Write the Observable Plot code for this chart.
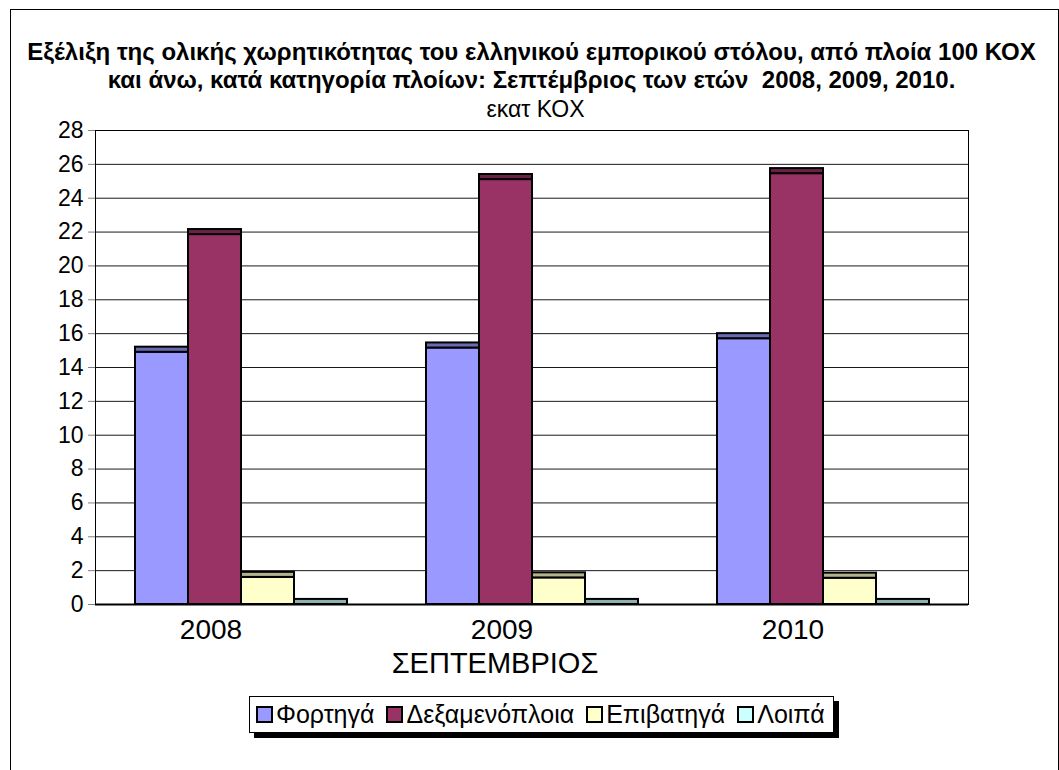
<!DOCTYPE html>
<html>
<head>
<meta charset="utf-8">
<script src="https://cdn.jsdelivr.net/npm/d3@7"></script>
<script src="https://cdn.jsdelivr.net/npm/@observablehq/plot@0.6"></script>
<style>
  html, body { margin: 0; background: #fff; min-height: 770px; }
  body { font-family: "Liberation Sans", Arial, sans-serif; color: #000; }
  #wrap { position: relative; width: 1059px; height: 770px; overflow: hidden; }
  #frame { position: absolute; left: 10px; top: 9px; width: 1047px; height: 800px; border: 1px solid #000; border-bottom: none; pointer-events: none; }
  #title { padding-top: 38px; text-align: center; font-weight: bold; font-size: 24px; line-height: 28px; white-space: nowrap; margin-left: 4px; }
  #sub { text-align: center; font-size: 23px; line-height: 22px; margin-top: 4px; margin-left: 12px; }
  #chart { margin-top: -6px; }
  #chart svg { display: block; }
  #xlabel { width: 990px; text-align: center; font-size: 29px; line-height: 30px; margin-top: -6px; }
  #legend { margin-left: 249px; margin-top: 18px; display: inline-flex; align-items: center; border: 1px solid #000; box-shadow: 5px 5px 0 #000; padding: 3px 8px 3px 6px; font-size: 25px; line-height: 29px; background: #fff; }
  #legend .item { display: inline-flex; align-items: center; margin-right: 12px; }
  #legend .item:last-child { margin-right: 0; }
  #legend .sw { width: 13px; height: 13px; border: 2px solid #000; margin-right: 3px; display: inline-block; }
</style>
</head>
<body>
<div id="wrap">
  <div id="frame"></div>
  <div id="title"></div>
  <div id="sub"></div>
  <div id="chart"></div>
  <div id="xlabel"></div>
  <div id="legend"></div>
</div>
<script>
const titleLines = [
  "Εξέλιξη της ολικής χωρητικότητας του ελληνικού εμπορικού στόλου, από πλοία 100 ΚΟΧ",
  "και άνω, κατά κατηγορία πλοίων: Σεπτέμβριος των ετών \u00a02008, 2009, 2010."
];
const subtitle = "εκατ ΚΟΧ";
const xTitle = "ΣΕΠΤΕΜΒΡΙΟΣ";

const years = ["2008", "2009", "2010"];
const cats = ["Φορτηγά", "Δεξαμενόπλοια", "Επιβατηγά", "Λοιπά"];
const fortiga = [15.2, 15.45, 16.0];
const dexamenoploia = [22.15, 25.4, 25.75];
const epivatiga = [1.9, 1.87, 1.85];
const loipa = [0.3, 0.3, 0.3];
const yTicks = [0, 2, 4, 6, 8, 10, 12, 14, 16, 18, 20, 22, 24, 26, 28];
const colors = ["#9999FF", "#993366", "#FFFFCC", "#CCFFFF"];

const series = [fortiga, dexamenoploia, epivatiga, loipa];
const rows = years.flatMap((y, i) => cats.map((c, j) => ({year: y, cat: c, value: series[j][i]})));
const depth = 0.3; // apparent 3D top face

document.getElementById("title").innerHTML = titleLines.join("<br>");
document.getElementById("sub").textContent = subtitle;
document.getElementById("xlabel").textContent = xTitle;

const faceTop = d => Math.max(0, d.value - depth);

const plot = Plot.plot({
  width: 1059,
  height: 540,
  marginTop: 16,
  marginBottom: 50,
  marginLeft: 95,
  marginRight: 91,
  style: {fontFamily: "'Liberation Sans', Arial, sans-serif", color: "#000", background: "transparent"},
  fx: {domain: years, padding: 0},
  x: {domain: cats, paddingInner: 0, paddingOuter: 0.73, axis: null},
  y: {domain: [0, 28]},
  color: {domain: cats, range: colors},
  marks: [
    Plot.gridY(yTicks.filter(t => t > 0 && t < 28), {stroke: "#000", strokeOpacity: 0.9}),
    Plot.axisY(yTicks, {tickSize: 7, tickPadding: 5, fontSize: 23, label: null, stroke: "#808080"}),
    Plot.barY(rows, {fx: "year", x: "cat", y1: 0, y2: faceTop, fill: "cat", stroke: "#000", strokeWidth: 2}),
    Plot.barY(rows, {fx: "year", x: "cat", y1: faceTop, y2: "value", fill: "cat"}),
    Plot.barY(rows, {fx: "year", x: "cat", y1: faceTop, y2: "value", fill: "#000", fillOpacity: 0.3, stroke: "#000", strokeWidth: 2}),
    Plot.ruleY([0], {stroke: "#000", strokeWidth: 2}),
    Plot.frame({facet: "super", stroke: "#000"}),
    Plot.axisFx({anchor: "bottom", tickSize: 0, tickPadding: 15, fontSize: 28, dx: -30, label: null})
  ]
});
document.getElementById("chart").appendChild(plot);

const legend = document.getElementById("legend");
cats.forEach((c, i) => {
  const item = document.createElement("span");
  item.className = "item";
  const sw = document.createElement("span");
  sw.className = "sw";
  sw.style.background = colors[i];
  const t = document.createElement("span");
  t.textContent = c;
  item.appendChild(sw);
  item.appendChild(t);
  legend.appendChild(item);
});
</script>
</body>
</html>
